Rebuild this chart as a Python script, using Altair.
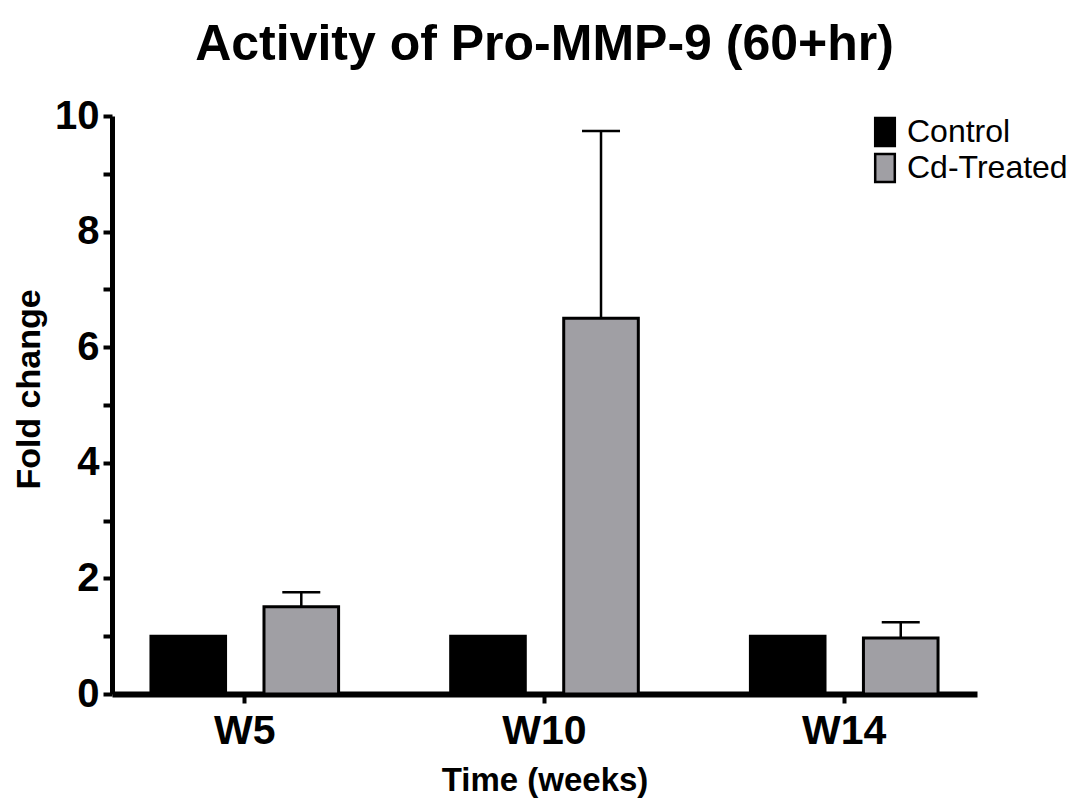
import altair as alt
import pandas as pd

weeks = ["W5", "W10", "W14"]
groups = ["Control", "Cd-Treated"]
control_mean = [1.0, 1.0, 1.0]
treated_mean = [1.51, 6.50, 0.97]
treated_sem = [0.25, 3.24, 0.27]

rows = []
for w, c in zip(weeks, control_mean):
    rows.append({"week": w, "group": "Control", "value": c, "upper": c})
for w, t, e in zip(weeks, treated_mean, treated_sem):
    rows.append({"week": w, "group": "Cd-Treated", "value": t, "upper": t + e})
df = pd.DataFrame(rows)
err = df[df["group"] == "Cd-Treated"]

FONT = "Liberation Sans"

x_enc = alt.X(
    "week:N",
    sort=weeks,
    scale=alt.Scale(paddingInner=0.374, paddingOuter=0.13),
    axis=alt.Axis(
        title="Time (weeks)",
        labelAngle=0,
        labelFontSize=41,
        labelFontWeight="bold",
        labelFont=FONT,
        labelColor="black",
        labelPadding=8,
        tickSize=9,
        tickWidth=4,
        tickColor="black",
        domainWidth=6,
        domainColor="black",
        titleFontSize=33,
        titleFontWeight="bold",
        titleFont=FONT,
        titleColor="black",
        titlePadding=13,
        grid=False,
    ),
)
xo_enc = alt.XOffset(
    "group:N",
    sort=groups,
    scale=alt.Scale(domain=groups, paddingInner=0.34, paddingOuter=0),
)
y_axis = alt.Axis(
    title="Fold change",
    values=list(range(11)),
    format="d",
    labelExpr="datum.value % 2 == 0 ? datum.label : ''",
    tickSize=9,
    tickWidth=4,
    tickColor="black",
    domainWidth=5,
    domainColor="black",
    labelFontSize=40,
    labelFontWeight="bold",
    labelFont=FONT,
    labelColor="black",
    labelPadding=4,
    titleFontSize=34,
    titleFontWeight="bold",
    titleFont=FONT,
    titleColor="black",
    titlePadding=8,
    titleY=273,
    grid=False,
)
y_scale = alt.Scale(domain=[0, 10], nice=False)

bars = alt.Chart(df).mark_bar(stroke="black", strokeWidth=3).encode(
    x=x_enc,
    xOffset=xo_enc,
    y=alt.Y("value:Q", scale=y_scale, axis=y_axis),
    fill=alt.Fill(
        "group:N",
        sort=groups,
        scale=alt.Scale(domain=groups, range=["#000000", "#a09fa4"]),
        legend=alt.Legend(
            title=None,
            orient="none",
            legendX=757,
            legendY=0,
            symbolType="M-0.7,-1H0.7V1H-0.7Z",
            symbolSize=784,
            symbolStrokeColor="black",
            symbolStrokeWidth=2.5,
            symbolOpacity=1,
            labelFontSize=32,
            labelFont=FONT,
            labelColor="black",
            labelOffset=6,
            labelLimit=400,
            rowPadding=-2,
        ),
    ),
)

rules = alt.Chart(err).mark_rule(color="black", strokeWidth=2.5).encode(
    x=alt.X("week:N", sort=weeks),
    xOffset=alt.XOffset("group:N", sort=groups),
    y=alt.Y("value:Q", scale=y_scale),
    y2="upper:Q",
)
caps = alt.Chart(err).mark_tick(
    color="black", orient="horizontal", size=38, thickness=2.5, opacity=1
).encode(
    x=alt.X("week:N", sort=weeks),
    xOffset=alt.XOffset("group:N", sort=groups),
    y=alt.Y("upper:Q", scale=y_scale),
)

chart = (
    alt.layer(bars, rules, caps)
    .properties(
        width=865,
        height=578,
        title=alt.Title(
            "Activity of Pro-MMP-9 (60+hr)",
            fontSize=50,
            font=FONT,
            fontWeight="bold",
            color="black",
            anchor="middle",
            offset=26,
        ),
        autosize=alt.AutoSizeParams(type="none"),
        padding={"left": 112, "top": 116, "right": 98, "bottom": 106},
    )
    .configure(background="white")
    .configure_view(stroke="transparent", strokeWidth=0)
)

chart.save("out.html", embed_options={"renderer": "svg", "actions": False})
